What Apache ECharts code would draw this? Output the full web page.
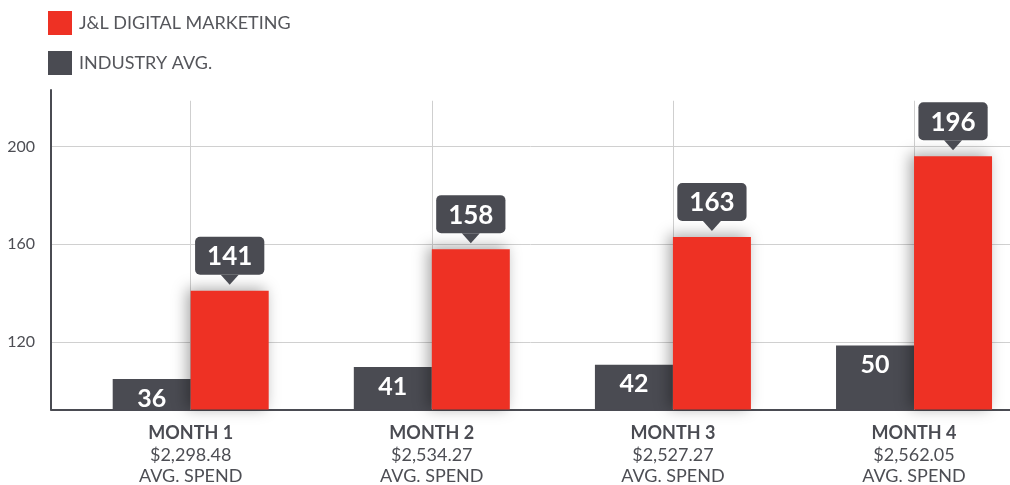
<!DOCTYPE html>
<html lang="en">
  <head>
    <meta charset="UTF-8" />
    <title>Average spend by month</title>
    <script src="https://cdn.jsdelivr.net/npm/echarts@6/dist/echarts.min.js"></script>
    <style>
      html, body { margin: 0; padding: 0; background: #fff; }
      #main { width: 1010px; height: 485px; }
    </style>
  </head>
  <body>
    <div id="main"></div>

    <script>
      // chart data
      var months = ['MONTH 1', 'MONTH 2', 'MONTH 3', 'MONTH 4'];
      var avgSpend = ['$2,298.48', '$2,534.27', '$2,527.27', '$2,562.05'];
      var monthPos = [1, 2, 3, 4];
      var jlValues = [141, 158, 163, 196];
      var industryValues = [36, 41, 42, 50];
      var yTicks = [120, 160, 200];

      var RED = '#ee3124';
      var GRAY = '#4a4b52';
      var FONT = 'Lato, "Noto Sans", sans-serif';

      function pairs(values) {
        return values.map(function (v, i) {
          return [monthPos[i], v];
        });
      }

      var options = {
        animation: false,
        textStyle: { fontFamily: FONT },
        legend: {
          orient: 'vertical',
          left: 48,
          top: 11,
          padding: 0,
          itemWidth: 24,
          itemHeight: 24,
          itemGap: 16,
          icon: 'rect',
          data: ['J&L DIGITAL MARKETING', 'INDUSTRY AVG.'],
          textStyle: {
            fontSize: 18,
            color: '#55565b',
            padding: [0, 0, 0, 2],
          },
        },
        grid: {
          left: 51,
          right: 0,
          top: 90,
          bottom: 73,
        },
        xAxis: {
          type: 'value',
          min: 0.4206,
          max: 4.398,
          axisLine: { show: true, onZero: false, lineStyle: { color: GRAY, width: 2 } },
          axisTick: { show: false },
          splitLine: { show: false },
          axisLabel: {
            customValues: monthPos,
            margin: 13,
            formatter: function (value) {
              var i = Math.round(value) - 1;
              return '{b|' + months[i] + '}\n{r|' + avgSpend[i] + '}\n{r|AVG. SPEND}';
            },
            rich: {
              b: { fontSize: 18, fontWeight: 'bold', color: GRAY, lineHeight: 22, fontFamily: FONT },
              r: { fontSize: 18, color: '#4d4e54', lineHeight: 21, fontFamily: FONT },
            },
          },
        },
        yAxis: [
          {
            type: 'value',
            min: 92.4,
            max: 223.1,
            axisLine: { show: true, lineStyle: { color: GRAY, width: 2 } },
            axisTick: { show: false, customValues: yTicks },
            axisLabel: {
              customValues: yTicks,
              margin: 16,
              fontSize: 16,
              color: '#4d4e54',
            },
            splitLine: { show: true, lineStyle: { color: '#d0d0d0', width: 1 } },
          },
          {
            type: 'value',
            show: false,
            min: 23.2,
            max: 157.2,
            splitLine: { show: false },
          },
        ],
        series: [
          {
            // carries only the vertical month guide lines
            name: 'guides',
            type: 'line',
            yAxisIndex: 0,
            data: [],
            silent: true,
            markLine: {
              silent: true,
              z: 1,
              symbol: ['none', 'none'],
              label: { show: false },
              lineStyle: { color: '#cfcfcf', width: 1, type: 'solid' },
              data: monthPos.map(function (x) {
                return [{ coord: [x, 92.4] }, { coord: [x, 218.7] }];
              }),
            },
          },
          {
            name: 'INDUSTRY AVG.',
            type: 'bar',
            yAxisIndex: 1,
            barWidth: 78,
            barGap: '0%',
            itemStyle: { color: GRAY },
            data: pairs(industryValues),
            label: {
              show: true,
              position: 'insideTop',
              distance: 7,
              fontSize: 25,
              fontWeight: 'bold',
              color: '#fff',
              formatter: function (p) {
                return p.value[1];
              },
            },
          },
          {
            name: 'J&L DIGITAL MARKETING',
            type: 'bar',
            yAxisIndex: 0,
            barWidth: 78,
            barGap: '0%',
            itemStyle: {
              color: RED,
              shadowBlur: 14,
              shadowColor: 'rgba(0,0,0,0.35)',
              shadowOffsetX: -4,
              shadowOffsetY: -2,
            },
            data: pairs(jlValues),
            label: {
              show: true,
              position: 'top',
              distance: 16,
              fontSize: 26,
              fontWeight: 'bold',
              color: '#fff',
              backgroundColor: GRAY,
              borderRadius: 5,
              padding: [7, 12, 5, 12],
              formatter: function (p) {
                return p.value[1];
              },
            },
            markPoint: {
              silent: true,
              symbol: 'path://M0,0 L18,0 L9,10 Z',
              symbolSize: [18, 10],
              symbolOffset: [0, -11],
              itemStyle: { color: GRAY },
              label: { show: false },
              data: jlValues.map(function (v, i) {
                return { coord: [monthPos[i], v] };
              }),
            },
          },
        ],
      };

      var myChart = echarts.init(document.getElementById('main'));
      myChart.setOption(options);
    </script>
  </body>
</html>
